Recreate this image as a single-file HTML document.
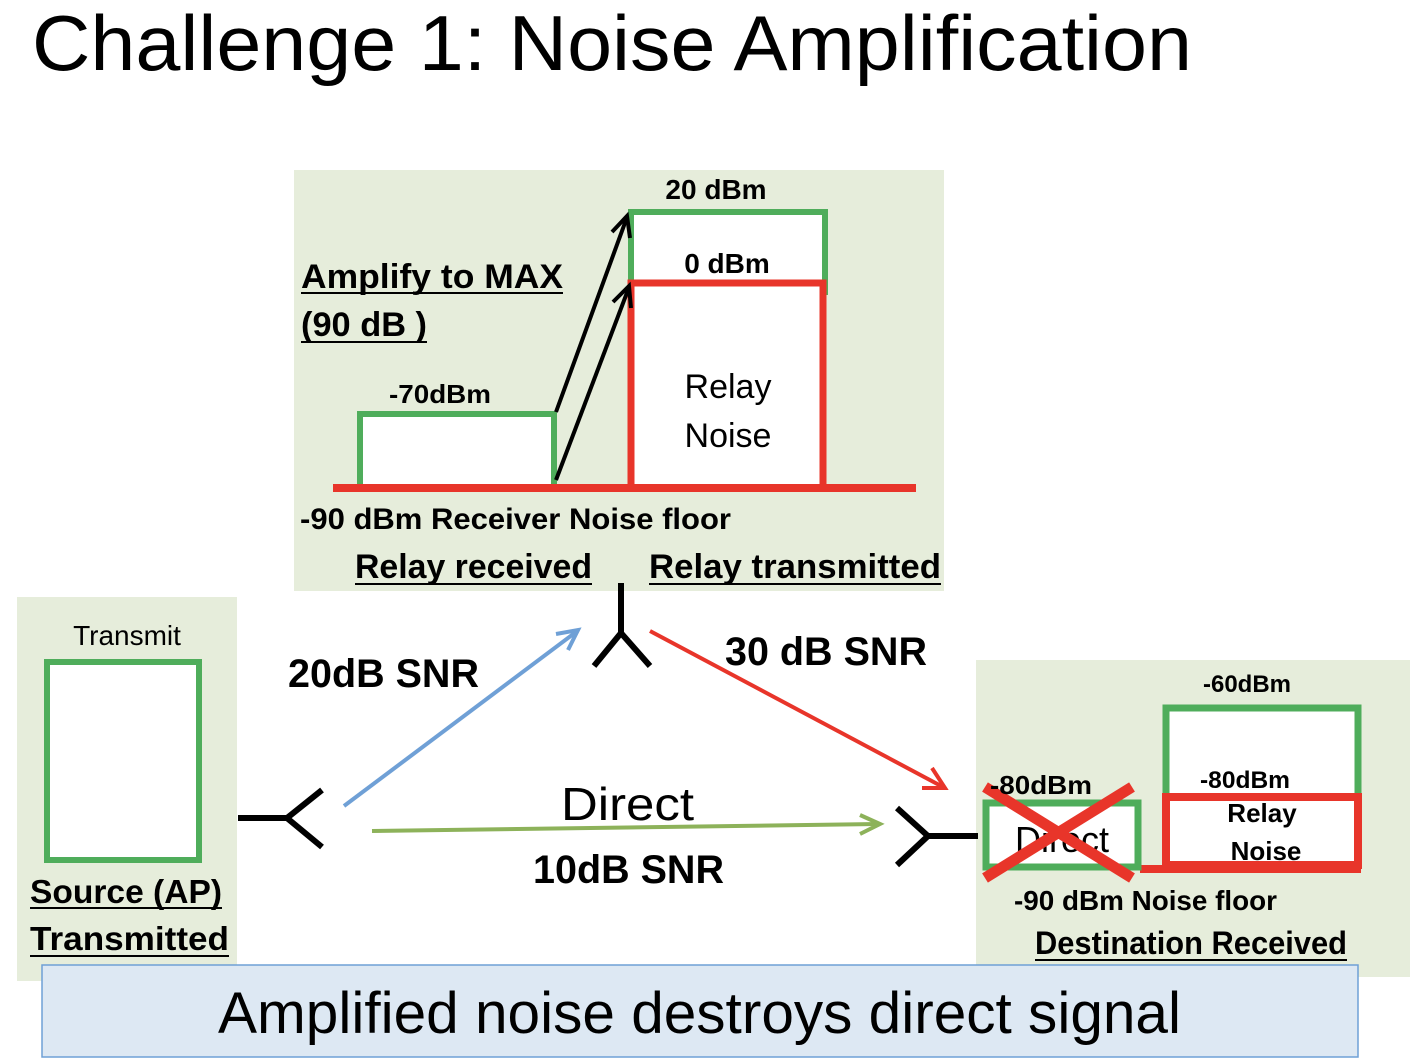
<!DOCTYPE html>
<html><head><meta charset="utf-8"><style>
html,body{margin:0;padding:0;background:#fff;}
svg{display:block;}
text{font-family:"Liberation Sans",sans-serif;}
.b{font-weight:bold;}
</style></head><body>
<svg width="1410" height="1062" viewBox="0 0 1410 1062" xmlns="http://www.w3.org/2000/svg">
<defs>
<marker id="ab" markerWidth="10" markerHeight="10" refX="8" refY="5" orient="auto" markerUnits="userSpaceOnUse"><path d="M0,0 L8,5 L0,10" fill="none" stroke="#000" stroke-width="0"/></marker>
</defs>
<text x="32" y="70" font-size="78" textLength="1160" lengthAdjust="spacingAndGlyphs">Challenge 1: Noise Amplification</text>

<!-- top panel -->
<rect x="294" y="170" width="650" height="421" fill="#e6eddb"/>
<rect x="360" y="414" width="194" height="74" fill="#fff" stroke="#4fad5b" stroke-width="6"/>
<rect x="631" y="212" width="194" height="80" fill="#fff" stroke="#4fad5b" stroke-width="6"/>
<rect x="631" y="283" width="192" height="205" fill="#fff" stroke="#e8352a" stroke-width="7"/>
<line x1="333" y1="488" x2="916" y2="488" stroke="#e8352a" stroke-width="8"/>
<g stroke="#000" stroke-width="4" fill="none">
<line x1="556" y1="412" x2="626" y2="220"/>
<polyline points="612,232 627,216 630,238"/>
<line x1="556" y1="480" x2="628" y2="290"/>
<polyline points="613,302 629,286 631,308"/>
</g>
<text class="b" x="716" y="199" font-size="28" text-anchor="middle">20 dBm</text>
<text class="b" x="727" y="273" font-size="28" text-anchor="middle">0 dBm</text>
<text class="b" x="301" y="288" font-size="34" textLength="262" lengthAdjust="spacingAndGlyphs">Amplify to MAX</text>
<line x1="301" y1="293" x2="563" y2="293" stroke="#000" stroke-width="2"/>
<text class="b" x="301" y="336" font-size="34" textLength="126" lengthAdjust="spacingAndGlyphs">(90 dB )</text>
<line x1="301" y1="342" x2="427" y2="342" stroke="#000" stroke-width="2"/>
<text class="b" x="389" y="403" font-size="26" textLength="102" lengthAdjust="spacingAndGlyphs">-70dBm</text>
<text x="728" y="398" font-size="34" text-anchor="middle">Relay</text>
<text x="728" y="447" font-size="34" text-anchor="middle">Noise</text>
<text class="b" x="300" y="529" font-size="30" textLength="431" lengthAdjust="spacingAndGlyphs">-90 dBm Receiver Noise floor</text>
<text class="b" x="355" y="578" font-size="34" textLength="237" lengthAdjust="spacingAndGlyphs">Relay received</text>
<line x1="355" y1="584" x2="592" y2="584" stroke="#000" stroke-width="2"/>
<text class="b" x="649" y="578" font-size="34" textLength="292" lengthAdjust="spacingAndGlyphs">Relay transmitted</text>
<line x1="649" y1="584" x2="941" y2="584" stroke="#000" stroke-width="2"/>

<!-- left panel -->
<rect x="17" y="597" width="220" height="384" fill="#e6eddb"/>
<text x="127" y="645" font-size="28" text-anchor="middle">Transmit</text>
<rect x="47" y="662" width="152" height="198" fill="#fff" stroke="#4fad5b" stroke-width="6"/>
<text class="b" x="30" y="903" font-size="33" textLength="192" lengthAdjust="spacingAndGlyphs">Source (AP)</text>
<line x1="30" y1="908" x2="222" y2="908" stroke="#000" stroke-width="2"/>
<text class="b" x="30" y="950" font-size="33" textLength="199" lengthAdjust="spacingAndGlyphs">Transmitted</text>
<line x1="30" y1="956" x2="229" y2="956" stroke="#000" stroke-width="2"/>

<!-- right panel -->
<rect x="976" y="660" width="434" height="317" fill="#e6eddb"/>
<rect x="1166" y="708" width="192" height="90" fill="#fff" stroke="#4fad5b" stroke-width="7"/>
<line x1="1140" y1="869" x2="1361" y2="869" stroke="#e8352a" stroke-width="8"/>
<rect x="1166" y="797" width="192" height="68" fill="#fff" stroke="#e8352a" stroke-width="8"/>
<rect x="986" y="803" width="152" height="64" fill="#fff" stroke="#4fad5b" stroke-width="7"/>
<text x="1015" y="852" font-size="36">Direct</text>
<g stroke="#e8352a" stroke-width="11">
<line x1="985" y1="787" x2="1132" y2="878"/>
<line x1="985" y1="878" x2="1132" y2="787"/>
</g>
<text class="b" x="1247" y="692" font-size="24" text-anchor="middle">-60dBm</text>
<text class="b" x="990" y="794" font-size="26" textLength="102" lengthAdjust="spacingAndGlyphs">-80dBm</text>
<text class="b" x="1200" y="788" font-size="24" textLength="90" lengthAdjust="spacingAndGlyphs">-80dBm</text>
<text class="b" x="1262" y="822" font-size="26" text-anchor="middle">Relay</text>
<text class="b" x="1266" y="860" font-size="26" text-anchor="middle">Noise</text>
<text class="b" x="1014" y="910" font-size="28" textLength="263" lengthAdjust="spacingAndGlyphs">-90 dBm Noise floor</text>
<text class="b" x="1035" y="954" font-size="32" textLength="312" lengthAdjust="spacingAndGlyphs">Destination Received</text>
<line x1="1035" y1="960" x2="1347" y2="960" stroke="#000" stroke-width="2"/>

<!-- antennas -->
<g stroke="#000" stroke-width="6" fill="none">
<line x1="238" y1="818" x2="287" y2="818"/>
<polyline points="322,790 287,818 322,847"/>
<line x1="621" y1="583" x2="621" y2="633"/>
<polyline points="594,666 621,633 650,666"/>
<line x1="928" y1="836" x2="978" y2="836"/>
<polyline points="897,808 928,836 897,865"/>
</g>

<!-- arrows -->
<g fill="none" stroke-width="4">
<line x1="344" y1="806" x2="576" y2="632" stroke="#6fa0d6"/>
<polyline points="556,634 578,630 568,650" stroke="#6fa0d6"/>
<line x1="650" y1="631" x2="943" y2="787" stroke="#e8352a"/>
<polyline points="932,768 945,788 922,788" stroke="#e8352a"/>
<line x1="372" y1="831" x2="878" y2="824" stroke="#8db25a"/>
<polyline points="860,815 880,824 860,834" stroke="#8db25a"/>
</g>
<text class="b" x="288" y="687" font-size="40" textLength="191" lengthAdjust="spacingAndGlyphs">20dB SNR</text>
<text class="b" x="725" y="665" font-size="40" textLength="202" lengthAdjust="spacingAndGlyphs">30 dB SNR</text>
<text x="561" y="820" font-size="46" textLength="133" lengthAdjust="spacingAndGlyphs">Direct</text>
<text class="b" x="533" y="883" font-size="40" textLength="191" lengthAdjust="spacingAndGlyphs">10dB SNR</text>

<!-- bottom -->
<rect x="42" y="965" width="1316" height="92" fill="#dde8f3" stroke="#6fa0d6" stroke-width="1.5"/>
<text x="218" y="1033" font-size="58" textLength="963" lengthAdjust="spacingAndGlyphs">Amplified noise destroys direct signal</text>
</svg>
</body></html>
